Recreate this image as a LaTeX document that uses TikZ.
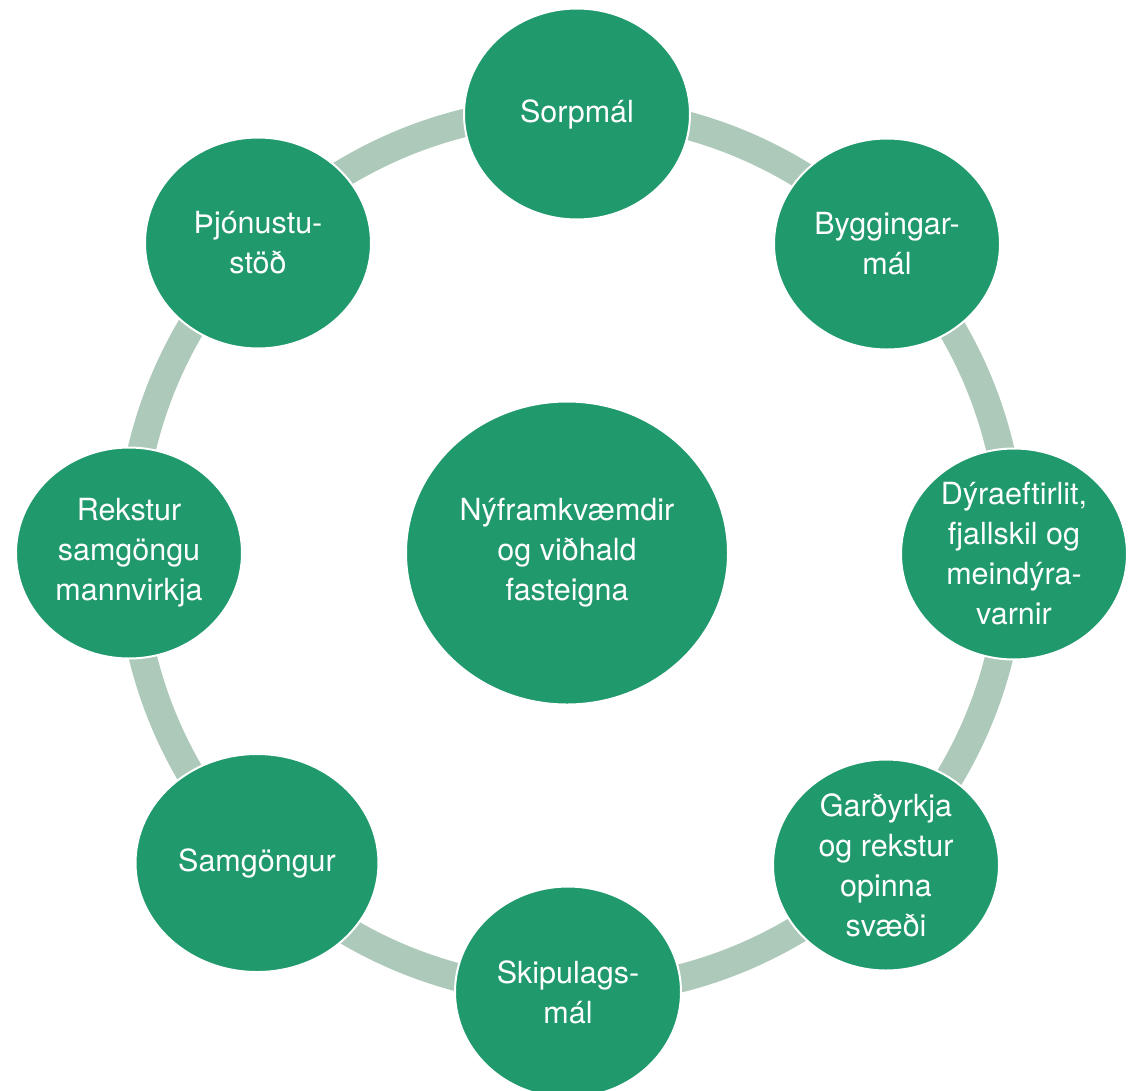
\documentclass[tikz,border=0pt]{standalone}
\usepackage{fontspec}
\setmainfont{TeX Gyre Heros}
\usepackage{tikz}
\usetikzlibrary{shapes.geometric}

\definecolor{ringgreen}{RGB}{172,201,185}
\definecolor{topicgreen}{RGB}{32,153,108}

\tikzset{
  topic/.style={ellipse, fill=topicgreen, draw=white, line width=2pt, text=white,
    align=center, inner sep=0pt, minimum width=226pt, minimum height=211pt,
    font=\fontsize{30.5}{40}\selectfont},
  ringline/.style={draw=ringgreen, line width=28pt}
}

\begin{document}
\begin{tikzpicture}[x=1pt,y=-1pt]
    \useasboundingbox (0,0) rectangle (1129,1090);
    \coordinate (ctr) at (571,551);
    \draw[ringline] (ctr) circle [radius=441pt];

    \node[topic, minimum width=322pt, minimum height=303pt] (nyfr) at (567,553) {Nýframkvæmdir\\og viðhald\\fasteigna};

    \node[topic] (sorp) at (577,114) {Sorpmál};
    \node[topic] (bygg) at (887,244) {Byggingar-\\mál};
    \node[topic] (dyra) at (1014,554) {Dýraeftirlit,\\fjallskil og\\meindýra-\\varnir};
    \node[topic] (gard) at (886,865) {Garðyrkja\\og rekstur\\opinna\\svæði};
    \node[topic] (skip) at (568,992) {Skipulags-\\mál};
    \node[topic, minimum width=243pt, minimum height=218pt] (samg) at (257,863) {Samgöngur};
    \node[topic] (rekst) at (129,553) {Rekstur\\samgöngu\\mannvirkja};
    \node[topic] (thjon) at (258,243) {Þjónustu-\\stöð};
\end{tikzpicture}
\end{document}
